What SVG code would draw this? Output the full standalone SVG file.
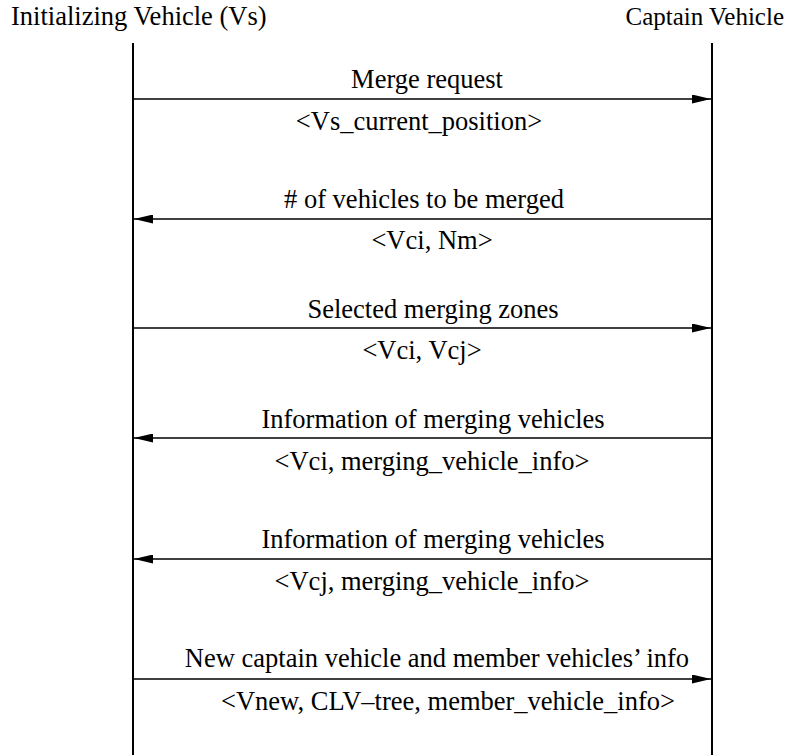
<svg xmlns="http://www.w3.org/2000/svg" width="799" height="755" viewBox="0 0 799 755">
<style>
text{font-family:"Liberation Serif","Times New Roman",serif;font-size:26.5px;fill:#000}
.m{text-anchor:middle}
.life{stroke:#000;stroke-width:2;fill:none}
.msg{stroke:#000;stroke-width:1.3;fill:none}
</style>
<defs>
<marker id="ah" viewBox="0 0 19 9" refX="19" refY="4.5" markerWidth="19" markerHeight="9" markerUnits="userSpaceOnUse" orient="auto">
<path d="M0,0 L19,4.5 L0,9 Z" fill="#000"/>
</marker>
</defs>
<rect width="799" height="755" fill="#fff"/>
<g id="vs">
<text x="11" y="25">Initializing Vehicle (Vs)</text>
<line class="life" x1="133" y1="43" x2="133" y2="755"/>
</g>
<g id="captain">
<text x="784" y="25" text-anchor="end" style="font-size:25px">Captain Vehicle</text>
<line class="life" x1="712" y1="43" x2="712" y2="755"/>
</g>
<g id="connectors">
<line class="msg" x1="134" y1="99" x2="711" y2="99" marker-end="url(#ah)"/>
<line class="msg" x1="711" y1="219" x2="134" y2="219" marker-end="url(#ah)"/>
<line class="msg" x1="134" y1="328" x2="711" y2="328" marker-end="url(#ah)"/>
<line class="msg" x1="711" y1="438" x2="134" y2="438" marker-end="url(#ah)"/>
<line class="msg" x1="711" y1="559" x2="134" y2="559" marker-end="url(#ah)"/>
<line class="msg" x1="134" y1="679" x2="711" y2="679" marker-end="url(#ah)"/>
</g>
<g id="labels">
<text class="m" x="427" y="88">Merge request</text>
<text class="m" x="419" y="130">&lt;Vs_current_position&gt;</text>
<text class="m" x="424" y="208"># of vehicles to be merged</text>
<text class="m" x="432" y="249">&lt;Vci, Nm&gt;</text>
<text class="m" x="433" y="318">Selected merging zones</text>
<text class="m" x="422" y="359">&lt;Vci, Vcj&gt;</text>
<text class="m" x="433" y="428">Information of merging vehicles</text>
<text class="m" x="432" y="470">&lt;Vci, merging_vehicle_info&gt;</text>
<text class="m" x="433" y="548">Information of merging vehicles</text>
<text class="m" x="432" y="590">&lt;Vcj, merging_vehicle_info&gt;</text>
<text class="m" x="437" y="667">New captain vehicle and member vehicles’ info</text>
<text class="m" x="448" y="710">&lt;Vnew, CLV–tree, member_vehicle_info&gt;</text>
</g>
</svg>
